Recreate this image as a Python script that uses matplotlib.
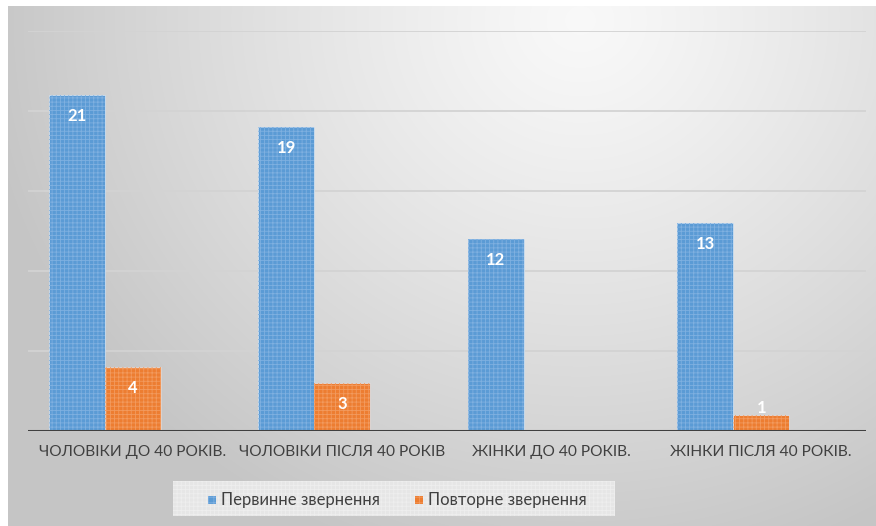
import numpy as np
import matplotlib
matplotlib.use("Agg")
import matplotlib.pyplot as plt
from matplotlib.patches import Rectangle

categories = ["ЧОЛОВІКИ ДО 40 РОКІВ.", "ЧОЛОВІКИ ПІСЛЯ 40 РОКІВ",
              "ЖІНКИ ДО 40 РОКІВ.", "ЖІНКИ ПІСЛЯ 40 РОКІВ."]
series_names = ["Первинне звернення", "Повторне звернення"]
primary = [21, 19, 12, 13]
repeat = [4, 3, None, 1]

blue = "#5b9bd5"
orange = "#ed7d31"
text_col = "#404040"

W, H = 876, 526
plt.rcParams["font.family"] = ["Lato", "DejaVu Sans"]
plt.rcParams["hatch.linewidth"] = 0.6

fig = plt.figure(figsize=(W / 100, H / 100), dpi=100)

# background: white page with a grey radial-gradient chart panel
bg = fig.add_axes([0, 0, 1, 1], zorder=-10)
yy, xx = np.mgrid[0:H, 0:W]
cx, cy = 580.0, 20.0
d = np.sqrt(((xx - cx) / 600.0) ** 2 + ((yy - cy) / 560.0) ** 2)
val = 0.975 - 0.2 * np.clip(d, 0, 1) ** 1.2
img = np.dstack([val, val, val])
img[:6, :, :] = 1.0
img[:, :8, :] = 1.0
bg.imshow(img, extent=[0, W, H, 0], aspect="auto", interpolation="bilinear")
bg.set_xlim(0, W)
bg.set_ylim(H, 0)
bg.axis("off")

# plot area
left, right = 28 / W, 866 / W
bottom, top = (H - 431) / H, (H - 31) / H
ax = fig.add_axes([left, bottom, right - left, top - bottom])
ax.set_facecolor("none")
ax.set_xlim(-0.5, len(categories) - 0.5)
ax.set_ylim(0, 25)

for yv in [5, 10, 15, 20, 25]:
    ax.axhline(yv, color="#d3d3d3", lw=1.3, zorder=0)

# three bar slots per category; the third slot is left empty
bw = 0.267
x = np.arange(len(categories))
px_per_unit = 400 / 25.0


def draw_series(xs, vals, color, hatch_col):
    for xi, v in zip(xs, vals):
        if v is None:
            continue
        ax.bar(xi, v, width=bw, color=color, edgecolor="#dbe7f3", lw=0.5, zorder=2)
        ax.bar(xi, v, width=bw, facecolor="none", edgecolor=hatch_col, lw=0,
               hatch="++++", zorder=3)
        h_px = v * px_per_unit
        off = -21 if h_px > 30 else 7
        ax.annotate(str(v), (xi, v), xytext=(0, off * 0.72), textcoords="offset points",
                    ha="center", va="center", color="white", fontsize=12,
                    fontweight="bold", zorder=5)


draw_series(x - bw, primary, blue, "#7fb0e0")
draw_series(x, repeat, orange, "#f29a5e")

ax.axhline(0, color="#404040", lw=2.2, zorder=4)

ax.set_xticks(x)
ax.set_xticklabels(categories, fontsize=11.2, color=text_col)
ax.tick_params(axis="x", length=0, pad=10)
ax.set_yticks([])
for s in ax.spines.values():
    s.set_visible(False)

# legend box
lx0, lx1, ly0, ly1 = 173, 615, 481, 516
leg_box = Rectangle((lx0 / W, 1 - ly1 / H), (lx1 - lx0) / W, (ly1 - ly0) / H,
                    transform=fig.transFigure, facecolor="#e6e6e6",
                    edgecolor="#eeeeee", lw=0, hatch="++++", zorder=1)
fig.patches.append(leg_box)

legend_items = [(212, blue, "#7fb0e0", series_names[0]),
                (419, orange, "#f29a5e", series_names[1])]
for mx, col, hc, name in legend_items:
    fig.patches.append(Rectangle(((mx - 4) / W, 1 - 504 / H), 8 / W, 8 / H,
                                 transform=fig.transFigure, facecolor=col,
                                 edgecolor=hc, lw=0, hatch="+++", zorder=2))
    fig.text((mx + 9) / W, 1 - 500 / H, name, fontsize=12, color=text_col,
             ha="left", va="center", zorder=3)

fig.savefig("out.png", dpi=100)
